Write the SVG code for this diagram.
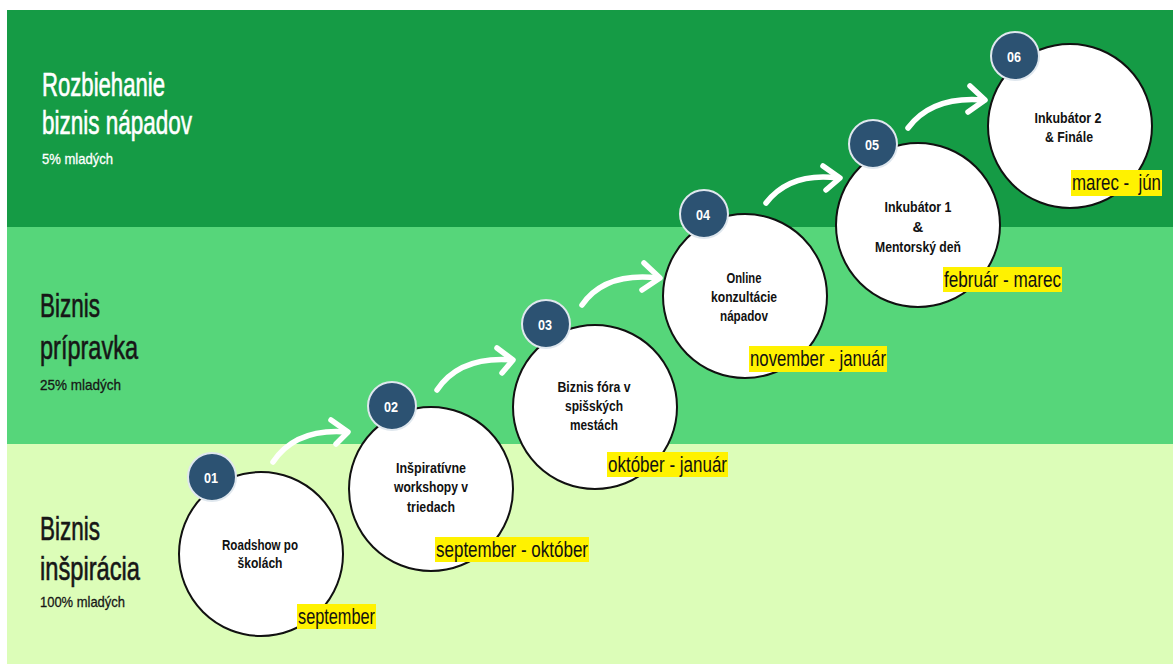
<svg xmlns="http://www.w3.org/2000/svg" width="1173" height="666" viewBox="0 0 1173 666">
<defs>
<style>
text{font-family:"Liberation Sans",Arial,sans-serif;}
.big{font-size:33px;stroke-width:0.6px;}
.small{font-size:15px;stroke-width:0.3px;}
.white{fill:#ffffff;stroke:#ffffff;}
.dark{fill:#161616;stroke:#161616;}
.node{fill:#ffffff;stroke:#111111;stroke-width:2;}
.badge{fill:#2c5272;stroke:#dfe7ee;stroke-width:2;}
.badge-t{font-weight:bold;font-size:15px;fill:#ffffff;text-anchor:middle;}
.lbl{font-weight:bold;font-size:15px;fill:#111111;text-anchor:middle;}
.hl{fill:#fff200;}
.date{font-size:22px;fill:#111111;}
.arrow{fill:none;stroke:#ffffff;stroke-width:5.5;stroke-linecap:round;stroke-linejoin:round;}
</style>
</defs>
<rect x="0" y="0" width="1173" height="666" fill="#ffffff"/>
<g id="bands">
<rect x="7" y="10" width="1166" height="217" fill="#159b45"/>
<rect x="7" y="227" width="1166" height="217" fill="#56d67a"/>
<rect x="7" y="444" width="1166" height="220" fill="#dcfdb8"/>
</g>
<g id="band-labels">
<text class="big white" x="42" y="96" textLength="123" lengthAdjust="spacingAndGlyphs">Rozbiehanie</text>
<text class="big white" x="42" y="134" textLength="150" lengthAdjust="spacingAndGlyphs">biznis nápadov</text>
<text class="small white" x="42" y="164" textLength="71" lengthAdjust="spacingAndGlyphs">5% mladých</text>
<text class="big dark" x="40" y="317" textLength="60" lengthAdjust="spacingAndGlyphs">Biznis</text>
<text class="big dark" x="40" y="359" textLength="98" lengthAdjust="spacingAndGlyphs">prípravka</text>
<text class="small dark" x="40" y="390" textLength="81" lengthAdjust="spacingAndGlyphs">25% mladých</text>
<text class="big dark" x="40" y="540" textLength="60" lengthAdjust="spacingAndGlyphs">Biznis</text>
<text class="big dark" x="40" y="580" textLength="100" lengthAdjust="spacingAndGlyphs">inšpirácia</text>
<text class="small dark" x="40" y="607" textLength="85" lengthAdjust="spacingAndGlyphs">100% mladých</text>
</g>
<g id="connectors">
<path class="arrow" d="M273,462 Q296,428 347,432"/>
<path class="arrow" d="M331,420 L348,432 L336,444"/>
<path class="arrow" d="M437,390 Q460,356 512,360"/>
<path class="arrow" d="M497,348 L513,360 L502,373"/>
<path class="arrow" d="M582,305 Q605,272 658,278"/>
<path class="arrow" d="M644,263 L660,278 L642,290"/>
<path class="arrow" d="M766,203 Q790,172 838,178"/>
<path class="arrow" d="M823,166 L840,178 L826,190"/>
<path class="arrow" d="M908,128 Q932,96 983,100"/>
<path class="arrow" d="M970,86 L985,100 L968,112"/>
</g>
<g id="node-1">
<circle class="node" cx="261" cy="554" r="82"/>
<circle class="badge" cx="212" cy="477" r="24"/>
<text class="badge-t" x="211" y="483" textLength="14" lengthAdjust="spacingAndGlyphs">01</text>
<text class="lbl" x="260" y="550" textLength="76" lengthAdjust="spacingAndGlyphs">Roadshow po</text>
<text class="lbl" x="260" y="568" textLength="45" lengthAdjust="spacingAndGlyphs">školách</text>
<rect class="hl" x="297" y="604" width="79" height="25"/>
<text class="date" x="298" y="624" textLength="77" lengthAdjust="spacingAndGlyphs">september</text>
</g>
<g id="node-2">
<circle class="node" cx="431" cy="489" r="82"/>
<circle class="badge" cx="392" cy="406" r="24"/>
<text class="badge-t" x="391" y="412" textLength="14" lengthAdjust="spacingAndGlyphs">02</text>
<text class="lbl" x="431" y="473" textLength="70" lengthAdjust="spacingAndGlyphs">Inšpiratívne</text>
<text class="lbl" x="431" y="492" textLength="74" lengthAdjust="spacingAndGlyphs">workshopy v</text>
<text class="lbl" x="431" y="512" textLength="48" lengthAdjust="spacingAndGlyphs">triedach</text>
<rect class="hl" x="435" y="537" width="154" height="25"/>
<text class="date" x="436" y="557" textLength="152" lengthAdjust="spacingAndGlyphs">september - október</text>
</g>
<g id="node-3">
<circle class="node" cx="595" cy="407" r="82"/>
<circle class="badge" cx="546" cy="324" r="24"/>
<text class="badge-t" x="545" y="330" textLength="14" lengthAdjust="spacingAndGlyphs">03</text>
<text class="lbl" x="594" y="392" textLength="73" lengthAdjust="spacingAndGlyphs">Biznis fóra v</text>
<text class="lbl" x="594" y="411" textLength="58" lengthAdjust="spacingAndGlyphs">spišských</text>
<text class="lbl" x="594" y="430" textLength="48" lengthAdjust="spacingAndGlyphs">mestách</text>
<rect class="hl" x="607" y="452" width="121" height="25"/>
<text class="date" x="608" y="472" textLength="119" lengthAdjust="spacingAndGlyphs">október - január</text>
</g>
<g id="node-4">
<circle class="node" cx="745" cy="296" r="82"/>
<circle class="badge" cx="704" cy="214" r="24"/>
<text class="badge-t" x="703" y="220" textLength="14" lengthAdjust="spacingAndGlyphs">04</text>
<text class="lbl" x="744" y="283" textLength="35" lengthAdjust="spacingAndGlyphs">Online</text>
<text class="lbl" x="744" y="302" textLength="66" lengthAdjust="spacingAndGlyphs">konzultácie</text>
<text class="lbl" x="744" y="321" textLength="48" lengthAdjust="spacingAndGlyphs">nápadov</text>
<rect class="hl" x="749" y="346" width="138" height="26"/>
<text class="date" x="750" y="366" textLength="136" lengthAdjust="spacingAndGlyphs">november - január</text>
</g>
<g id="node-5">
<circle class="node" cx="918" cy="225" r="82"/>
<circle class="badge" cx="873" cy="144" r="24"/>
<text class="badge-t" x="872" y="150" textLength="14" lengthAdjust="spacingAndGlyphs">05</text>
<text class="lbl" x="918" y="212" textLength="67" lengthAdjust="spacingAndGlyphs">Inkubátor 1</text>
<text class="lbl" x="918" y="232">&amp;</text>
<text class="lbl" x="918" y="252" textLength="86" lengthAdjust="spacingAndGlyphs">Mentorský deň</text>
<rect class="hl" x="943" y="267" width="119" height="25"/>
<text class="date" x="944" y="287" textLength="117" lengthAdjust="spacingAndGlyphs">február - marec</text>
</g>
<g id="node-6">
<circle class="node" cx="1070" cy="126" r="82"/>
<circle class="badge" cx="1015" cy="56" r="24"/>
<text class="badge-t" x="1014" y="62" textLength="14" lengthAdjust="spacingAndGlyphs">06</text>
<text class="lbl" x="1068" y="123" textLength="67" lengthAdjust="spacingAndGlyphs">Inkubátor 2</text>
<text class="lbl" x="1069" y="142" textLength="48" lengthAdjust="spacingAndGlyphs">&amp; Finále</text>
<rect class="hl" x="1071" y="170" width="91" height="26"/>
<text class="date" x="1072" y="190" textLength="89" lengthAdjust="spacingAndGlyphs" xml:space="preserve">marec -  jún</text>
</g>
</svg>
